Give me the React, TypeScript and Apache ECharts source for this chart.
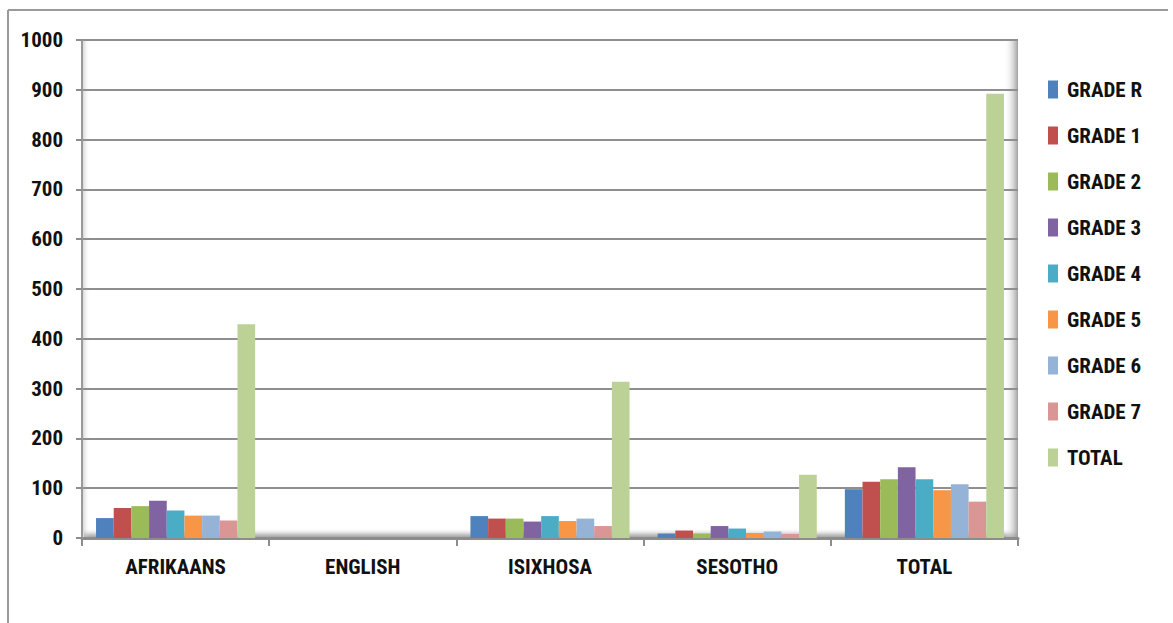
import React, { useEffect, useRef } from "react";
import * as echarts from "echarts";

const categories = ["AFRIKAANS", "ENGLISH", "ISIXHOSA", "SESOTHO", "TOTAL"];
const seriesNames = ["GRADE R", "GRADE 1", "GRADE 2", "GRADE 3", "GRADE 4", "GRADE 5", "GRADE 6", "GRADE 7", "TOTAL"];
const gradeR = [40, 0, 44, 9, 98];
const grade1 = [60, 0, 39, 15, 113];
const grade2 = [64, 0, 39, 9, 118];
const grade3 = [75, 0, 33, 24, 142];
const grade4 = [55, 0, 44, 19, 118];
const grade5 = [45, 0, 34, 10, 96];
const grade6 = [45, 0, 39, 13, 108];
const grade7 = [35, 0, 24, 8, 73];
const totals = [429, 0, 314, 127, 892];
const seriesValues = [gradeR, grade1, grade2, grade3, grade4, grade5, grade6, grade7, totals];
const colors = ["#4F81BD", "#C0504D", "#9BBB59", "#8064A2", "#4BACC6", "#F79646", "#95B3D7", "#D99694", "#BCD196"];
const yTicks = { min: 0, max: 1000, interval: 100 };

const FONT = "'Roboto Condensed', 'Open Sans Condensed', sans-serif";

export default function App() {
  const ref = useRef<HTMLDivElement>(null);
  useEffect(() => {
    if (!ref.current) return;
    const chart = echarts.init(ref.current, null, { renderer: "svg" });
    const gridLeft = 82;
    const gridRight = 155;
    const gridTop = 40;
    const gridBottom = 85;
    chart.setOption({
      animation: false,
      color: colors,
      textStyle: { fontFamily: FONT },
      graphic: [
        { type: "line", z: -10, shape: { x1: 8, y1: 10, x2: 1168, y2: 10 }, style: { stroke: "#9a9a9a", lineWidth: 2 } },
        { type: "line", z: -10, shape: { x1: 8, y1: 10, x2: 8, y2: 623 }, style: { stroke: "#9a9a9a", lineWidth: 2 } },
        {
          type: "rect", z: -5,
          shape: { x: gridLeft + 2, y: 528, width: 1173 - gridRight - gridLeft - 2, height: 11 },
          style: {
            fill: new echarts.graphic.LinearGradient(0, 0, 0, 1, [
              { offset: 0, color: "rgba(255,255,255,0)" },
              { offset: 0.6, color: "rgba(170,170,170,0.7)" },
              { offset: 1, color: "rgba(140,140,140,1)" },
            ]),
          },
        },
        {
          type: "rect", z: -5,
          shape: { x: 1173 - gridRight - 14, y: gridTop, width: 14, height: 623 - gridTop - gridBottom },
          style: {
            fill: new echarts.graphic.LinearGradient(0, 0, 1, 0, [
              { offset: 0, color: "rgba(255,255,255,0)" },
              { offset: 1, color: "rgba(150,150,150,0.9)" },
            ]),
          },
        },
        {
          type: "rect", z: -5,
          shape: { x: gridLeft, y: gridTop, width: 8, height: 623 - gridTop - gridBottom },
          style: {
            fill: new echarts.graphic.LinearGradient(0, 0, 1, 0, [
              { offset: 0, color: "rgba(170,170,170,0.6)" },
              { offset: 1, color: "rgba(255,255,255,0)" },
            ]),
          },
        },
      ],
      legend: {
        orient: "vertical",
        left: 1043,
        top: 74,
        padding: 5,
        itemWidth: 10,
        itemHeight: 18,
        itemGap: 25,
        icon: "rect",
        data: seriesNames,
        textStyle: { fontFamily: FONT, fontSize: 21, fontWeight: "bold", color: "#111", padding: [0, 0, 0, 4] },
      },
      grid: { left: gridLeft, right: gridRight, top: gridTop, bottom: gridBottom, containLabel: false },
      xAxis: {
        type: "category",
        data: categories,
        axisLine: { show: true, lineStyle: { color: "#8c8c8c", width: 3 } },
        axisTick: { show: true, length: 8, lineStyle: { color: "#8c8c8c", width: 2 } },
        axisLabel: { margin: 18, fontFamily: FONT, fontSize: 21, fontWeight: "bold", color: "#111" },
      },
      yAxis: {
        type: "value",
        min: yTicks.min,
        max: yTicks.max,
        interval: yTicks.interval,
        axisLine: { show: true, lineStyle: { color: "#9a9a9a", width: 2 } },
        axisTick: { show: true, length: 6, lineStyle: { color: "#8c8c8c", width: 2 } },
        axisLabel: { margin: 19, fontFamily: FONT, fontSize: 21, fontWeight: "bold", color: "#111", formatter: (v: number) => String(v) },
        splitLine: { show: true, lineStyle: { color: "#8f8f8f", width: 2 } },
      },
      series: seriesNames.map((name, i) => ({
        name,
        type: "bar",
        data: seriesValues[i],
        barGap: "0%",
        barCategoryGap: "15%",
        itemStyle: { color: colors[i] },
      })),
    });
    return () => chart.dispose();
  }, []);
  return <div ref={ref} style={{ width: 1173, height: 623, position: "absolute", left: 0, top: 0, background: "#fff" }} />;
}
